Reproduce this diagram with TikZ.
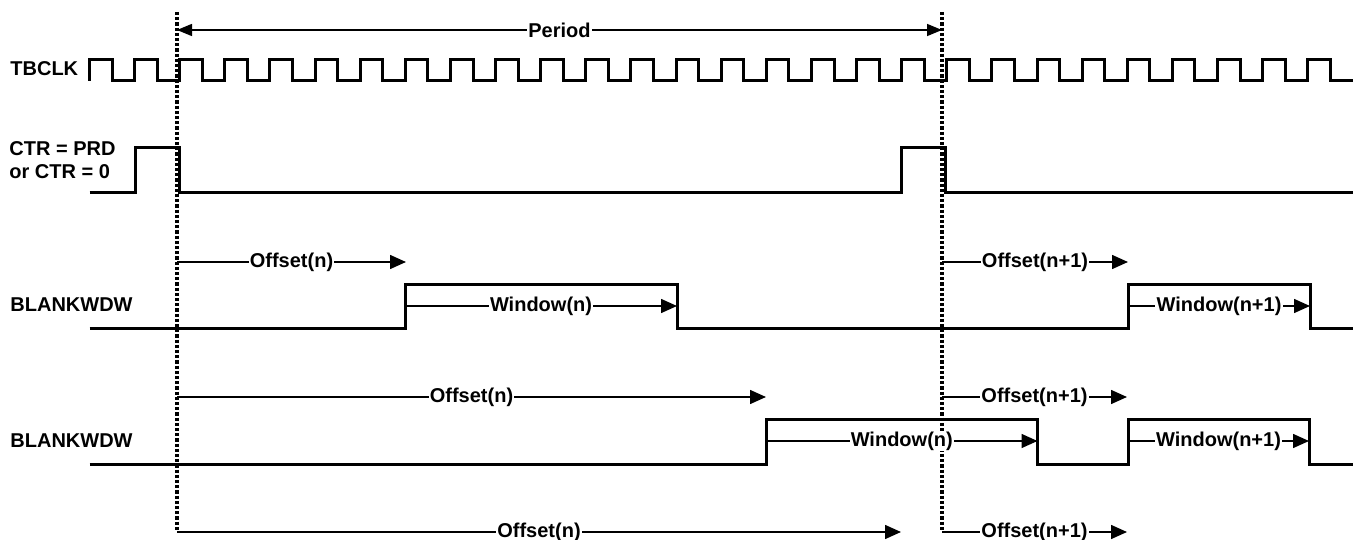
\documentclass[tikz,border=0pt]{standalone}
\usepackage{fontspec}
\setmainfont{Liberation Sans}
\usetikzlibrary{arrows.meta}
\begin{document}
\begin{tikzpicture}[x=0.5pt,y=-0.5pt,
  wave/.style={line width=1.5pt, line join=miter},
  guide/.style={line width=1.6pt, dash pattern=on 1.6pt off 1pt},
  dimarrow/.style={line width=0.75pt, -{Triangle[length=8pt,width=7pt]}},
  twoarrow/.style={line width=0.75pt, {Triangle[length=7.5pt,width=6pt]}-{Triangle[length=7.5pt,width=6pt]}},
  lbl/.style={fill=white, inner xsep=0.6pt, inner ysep=0.5pt, font=\fontsize{10}{12}\selectfont\bfseries},
  sig/.style={anchor=west, inner sep=0pt, align=left, font=\fontsize{10}{11.7}\selectfont\bfseries}]
\useasboundingbox (0,0) rectangle (1356,540);

% guide (dotted) lines
\coordinate (d1t) at (177,12);
\coordinate (d1b) at (177,532);
\coordinate (d2t) at (942,12);
\coordinate (d2b) at (942,532);
\draw[guide] (d1t) -- (d1b);
\draw[guide] (d2t) -- (d2b);

% signal names
\node[sig] (ntb) at (10,69) {TBCLK};
\node[sig] (nctr) at (9,160) {CTR = PRD\\or CTR = 0};
\node[sig] (nbw1) at (10,305) {BLANKWDW};
\node[sig] (nbw2) at (10,441) {BLANKWDW};

% TBCLK
\draw[wave] (89.5,81) -- (89.5,59.5)
  \foreach \k in {0,...,26} {
    -- ({89.5+45.12*\k+22.6},59.5) -- ({89.5+45.12*\k+22.6},81)
    -- ({89.5+45.12*(\k+1)},81) -- ({89.5+45.12*(\k+1)},59.5)
  }
  -- ({89.5+45.12*27+22.6},59.5) -- ({89.5+45.12*27+22.6},81) -- (1353,81);

% CTR = PRD or CTR = 0
\draw[wave] (89.5,192.5) -- (135,192.5) -- (135,147.7) -- (179.5,147.7) -- (179.5,192.5)
  -- (901.5,192.5) -- (901.5,147.7) -- (945.5,147.7) -- (945.5,192.5) -- (1353,192.5);

% BLANKWDW row 1
\draw[wave] (89.5,328) -- (405,328) -- (405,284) -- (677,284) -- (677,328)
  -- (1128,328) -- (1128,284) -- (1310,284) -- (1310,328) -- (1353,328);

% BLANKWDW row 2
\draw[wave] (89.5,464) -- (766,464) -- (766,419.5) -- (1037.5,419.5) -- (1037.5,464)
  -- (1128,464) -- (1128,419.5) -- (1309,419.5) -- (1309,464) -- (1353,464);

% Period
\coordinate (pa) at (177,30);
\coordinate (pb) at (942,30);
\draw[twoarrow] (pa) -- node[lbl] (lper) {Period} (pb);

% row 1 arrows
\coordinate (o1a) at (177,262);  \coordinate (o1b) at (406,262);
\coordinate (o2a) at (942,262);  \coordinate (o2b) at (1128,262);
\coordinate (w1a) at (405,306);  \coordinate (w1b) at (677,306);
\coordinate (w2a) at (1128,306); \coordinate (w2b) at (1310,306);
\draw[dimarrow] (o1a) -- node[lbl] (lo1) {Offset(n)} (o1b);
\draw[dimarrow] (o2a) -- node[lbl] (lo2) {Offset(n+1)} (o2b);
\draw[dimarrow] (w1a) -- node[lbl] (lw1) {Window(n)} (w1b);
\draw[dimarrow] (w2a) -- node[lbl] (lw2) {Window(n+1)} (w2b);

% row 2 arrows
\coordinate (o3a) at (177,397);  \coordinate (o3b) at (766,397);
\coordinate (o4a) at (942,397);  \coordinate (o4b) at (1127,397);
\coordinate (w3a) at (766,441);  \coordinate (w3b) at (1037.5,441);
\coordinate (w4a) at (1128,441); \coordinate (w4b) at (1309,441);
\draw[dimarrow] (o3a) -- node[lbl] (lo3) {Offset(n)} (o3b);
\draw[dimarrow] (o4a) -- node[lbl] (lo4) {Offset(n+1)} (o4b);
\draw[dimarrow] (w3a) -- node[lbl] (lw3) {Window(n)} (w3b);
\draw[dimarrow] (w4a) -- node[lbl] (lw4) {Window(n+1)} (w4b);

% bottom arrows
\coordinate (o5b) at (901,532);
\coordinate (o6b) at (1127,532);
\draw[dimarrow] (d1b) -- node[lbl] (lo5) {Offset(n)} (o5b);
\draw[dimarrow] (d2b) -- node[lbl] (lo6) {Offset(n+1)} (o6b);
\end{tikzpicture}
\end{document}
